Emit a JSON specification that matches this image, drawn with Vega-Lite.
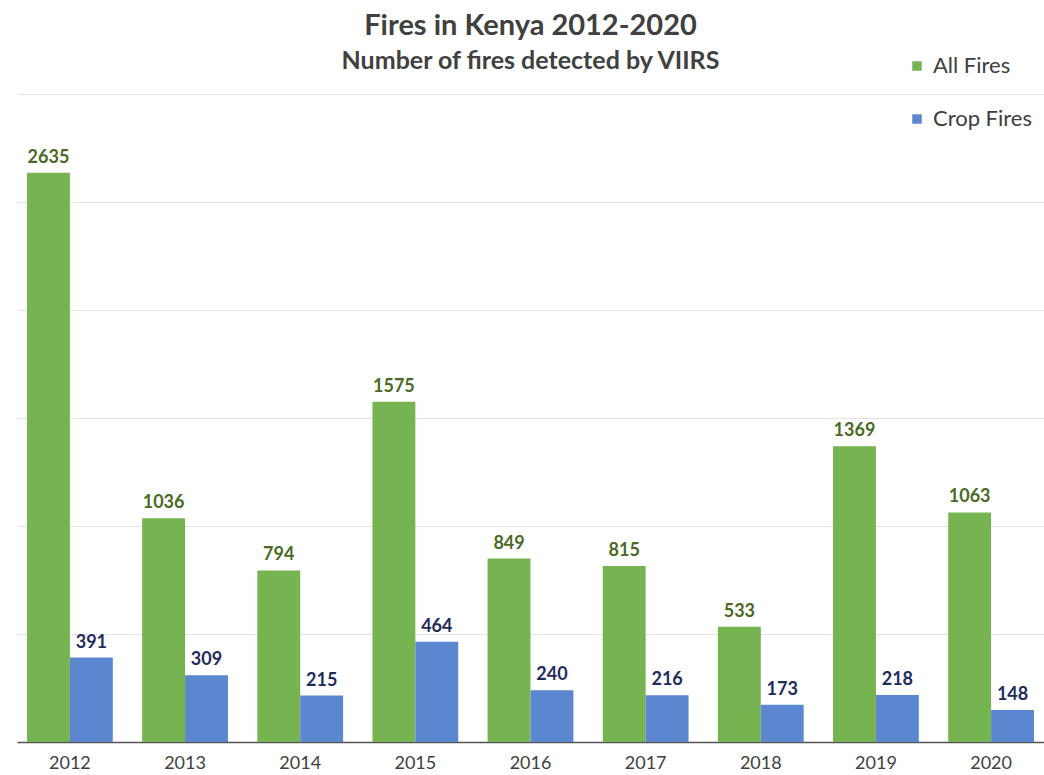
{
  "$schema": "https://vega.github.io/schema/vega-lite/v6.json",
  "width": 1027,
  "height": 648,
  "autosize": {"type": "none"},
  "padding": {"left": 17, "top": 94, "right": 0, "bottom": 33},
  "background": "white",
  "config": {
    "font": "Lato",
    "view": {"stroke": null}
  },
  "title": {
    "text": "Fires in Kenya 2012-2020",
    "subtitle": "Number of fires detected by VIIRS",
    "fontSize": 29,
    "fontWeight": "bold",
    "color": "#404040",
    "subtitleFontSize": 25,
    "subtitleFontWeight": "bold",
    "subtitleColor": "#404040",
    "subtitlePadding": 8,
    "offset": -19,
    "anchor": "middle"
  },
  "data": {
    "values": [
      {"year": "2012", "series": "All Fires", "fires": 2635},
      {"year": "2013", "series": "All Fires", "fires": 1036},
      {"year": "2014", "series": "All Fires", "fires": 794},
      {"year": "2015", "series": "All Fires", "fires": 1575},
      {"year": "2016", "series": "All Fires", "fires": 849},
      {"year": "2017", "series": "All Fires", "fires": 815},
      {"year": "2018", "series": "All Fires", "fires": 533},
      {"year": "2019", "series": "All Fires", "fires": 1369},
      {"year": "2020", "series": "All Fires", "fires": 1063},
      {"year": "2012", "series": "Crop Fires", "fires": 391},
      {"year": "2013", "series": "Crop Fires", "fires": 309},
      {"year": "2014", "series": "Crop Fires", "fires": 215},
      {"year": "2015", "series": "Crop Fires", "fires": 464},
      {"year": "2016", "series": "Crop Fires", "fires": 240},
      {"year": "2017", "series": "Crop Fires", "fires": 216},
      {"year": "2018", "series": "Crop Fires", "fires": 173},
      {"year": "2019", "series": "Crop Fires", "fires": 218},
      {"year": "2020", "series": "Crop Fires", "fires": 148}
    ]
  },
  "encoding": {
    "x": {
      "field": "year",
      "type": "nominal",
      "scale": {"paddingInner": 0.255, "paddingOuter": 0.087},
      "axis": {
        "title": null,
        "labelAngle": 0,
        "labelFontSize": 18,
        "labelColor": "#404040",
        "labelPadding": 12,
        "ticks": false,
        "domainColor": "#555555",
        "domainWidth": 1.5
      }
    },
    "xOffset": {"field": "series", "type": "nominal"},
    "y": {
      "field": "fires",
      "type": "quantitative",
      "scale": {"domain": [0, 3000], "nice": false},
      "axis": {
        "title": null,
        "labels": false,
        "ticks": false,
        "domain": false,
        "values": [500, 1000, 1500, 2000, 2500, 3000],
        "gridColor": "#e3e3e3",
        "gridWidth": 1
      }
    }
  },
  "layer": [
    {
      "mark": {"type": "bar"},
      "encoding": {
        "color": {
          "field": "series",
          "type": "nominal",
          "scale": {"domain": ["All Fires", "Crop Fires"], "range": ["#76b452", "#5b87d1"]},
          "legend": {
            "title": null,
            "orient": "none",
            "legendX": 889,
            "legendY": -39,
            "symbolType": "square",
            "symbolSize": 90,
            "symbolStrokeWidth": 0,
            "labelFontSize": 22,
            "labelColor": "#404040",
            "rowPadding": 31,
            "labelOffset": 5
          }
        }
      }
    },
    {
      "mark": {"type": "text", "baseline": "bottom", "dy": -6, "fontSize": 18, "fontWeight": "bold"},
      "encoding": {
        "text": {"field": "fires", "type": "quantitative"},
        "color": {
          "field": "series",
          "type": "nominal",
          "scale": {"domain": ["All Fires", "Crop Fires"], "range": ["#4a6a25", "#1f2c5c"]},
          "legend": null
        }
      }
    }
  ],
  "resolve": {"scale": {"color": "independent"}}
}
